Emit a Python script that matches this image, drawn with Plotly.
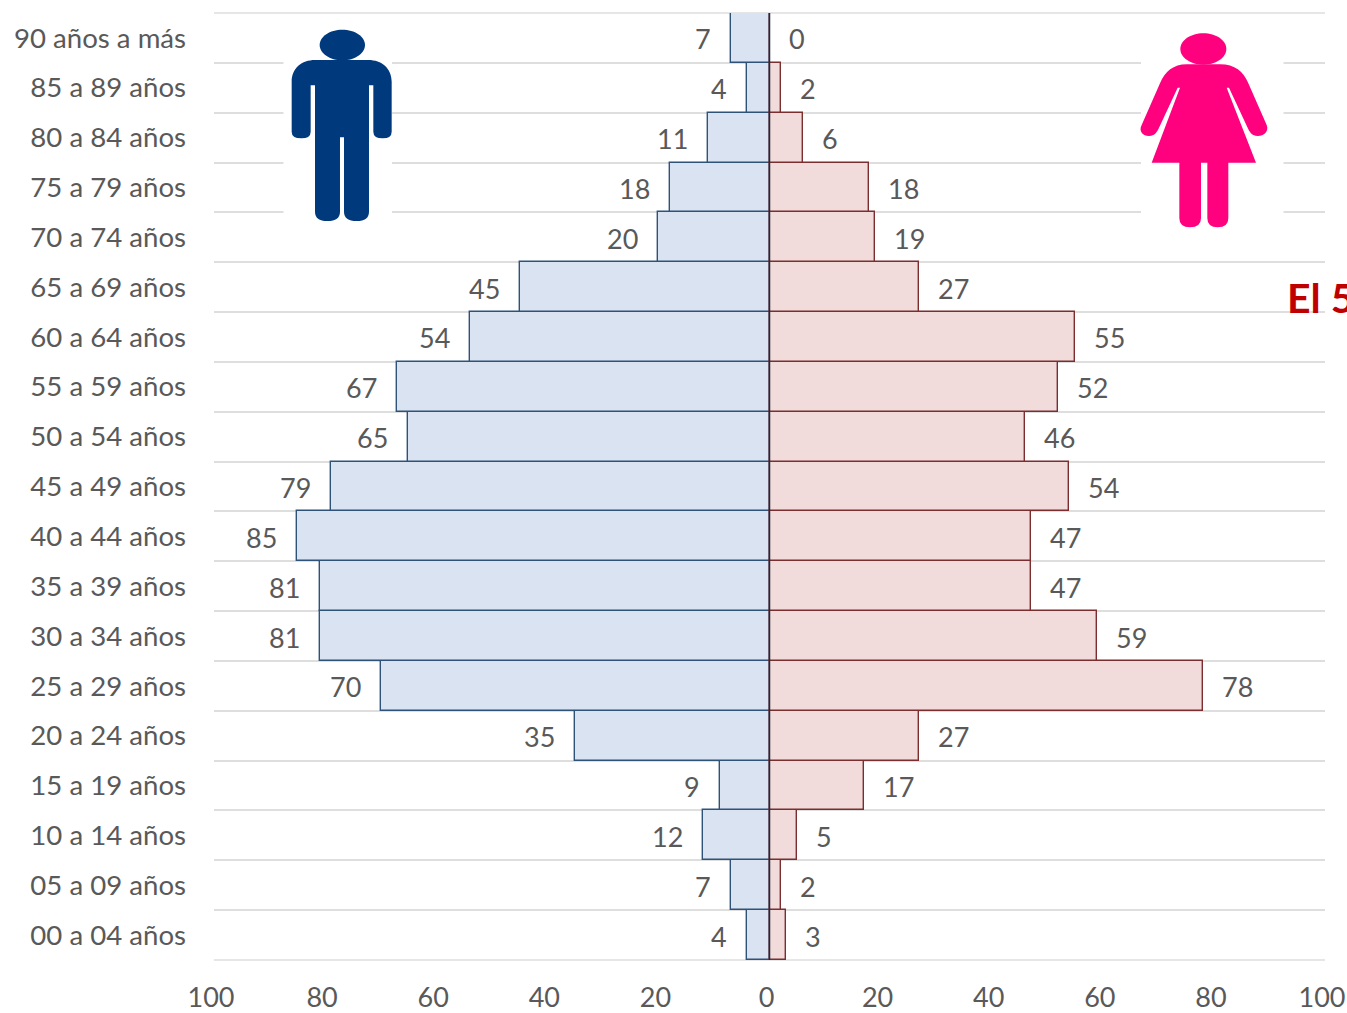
import plotly.graph_objects as go

categories = ["00 a 04 años","05 a 09 años","10 a 14 años","15 a 19 años","20 a 24 años","25 a 29 años",
              "30 a 34 años","35 a 39 años","40 a 44 años","45 a 49 años","50 a 54 años","55 a 59 años",
              "60 a 64 años","65 a 69 años","70 a 74 años","75 a 79 años","80 a 84 años","85 a 89 años","90 años a más"]
men = [4,7,12,9,35,70,81,81,85,79,65,67,54,45,20,18,11,4,7]
women = [3,2,5,17,27,78,59,47,47,54,46,52,55,27,19,18,6,2,0]
x_ticks = [-100,-80,-60,-40,-20,0,20,40,60,80,100]
x_labels = ["100","80","60","40","20","0","20","40","60","80","100"]

W, H = 1347, 1013
L, R, T, B = 214, 1325, 13, 960
TXT = "#595959"
FONT = "Lato, 'Open Sans', sans-serif"
GRID = "#DEDEDE"

def px(x, y):
    return f"{(x-L)/(R-L):.5f},{(B-y)/(B-T):.5f}"

def path(cmds, ox, oy, s=1/3):
    out = ""
    for c, pts in cmds:
        out += c + " ".join(px(ox+p[0]*s, oy+p[1]*s) for p in pts) + " "
    return out + "Z"

def ell(cx, cy, rx, ry):
    k = 0.5523
    return [("M",[(cx-rx,cy)]),
            ("C",[(cx-rx,cy-k*ry),(cx-k*rx,cy-ry),(cx,cy-ry)]),
            ("C",[(cx+k*rx,cy-ry),(cx+rx,cy-k*ry),(cx+rx,cy)]),
            ("C",[(cx+rx,cy+k*ry),(cx+k*rx,cy+ry),(cx,cy+ry)]),
            ("C",[(cx-k*rx,cy+ry),(cx-rx,cy+k*ry),(cx-rx,cy)])]

man_body = [("M",[(345,180)]),("L",[(505,180)]),("C",[(545,180),(575,205),(575,245)]),
    ("L",[(575,395)]),("Q",[(575,415),(548,415)]),("Q",[(520,415),(520,395)]),("L",[(520,256)]),("L",[(507,256)]),
    ("L",[(507,635)]),("Q",[(507,663),(470,663)]),("Q",[(432,663),(432,635)]),("L",[(432,412)]),("L",[(420,412)]),
    ("L",[(420,635)]),("Q",[(420,663),(382,663)]),("Q",[(345,663),(345,635)]),("L",[(345,256)]),("L",[(332,256)]),
    ("L",[(332,395)]),("Q",[(332,415),(304,415)]),("Q",[(275,415),(275,395)]),("L",[(275,245)]),("C",[(275,205),(305,180),(345,180)])]

woman_body = [("M",[(260,193)]),("L",[(360,193)]),("C",[(405,193),(430,215),(445,250)]),
    ("L",[(500,375)]),("C",[(510,400),(480,415),(460,405)]),("Q",[(452,402),(445,388)]),("L",[(387,263)]),("L",[(380,263)]),
    ("L",[(468,488)]),("L",[(385,488)]),("L",[(385,655)]),("Q",[(385,682),(353,682)]),("Q",[(322,682),(322,655)]),("L",[(322,488)]),
    ("L",[(303,488)]),("L",[(303,655)]),("Q",[(303,682),(270,682)]),("Q",[(238,682),(238,655)]),("L",[(238,488)]),
    ("L",[(155,488)]),("L",[(240,263)]),("L",[(233,263)]),("L",[(175,388)]),("Q",[(168,402),(160,405)]),
    ("C",[(140,415),(112,400),(125,375)]),("L",[(180,250)]),("C",[(195,215),(220,193),(260,193)])]

def paper_rect(x0, y0, x1, y1):
    return dict(type="rect", xref="paper", yref="paper", x0=(x0-L)/(R-L), x1=(x1-L)/(R-L),
                y0=(B-y1)/(B-T), y1=(B-y0)/(B-T), fillcolor="white", line_width=0, layer="above")

def icon(d, color):
    return dict(type="path", xref="paper", yref="paper", path=d, fillcolor=color, line_width=0, layer="above")

MAN, WOMAN = "#003A7D", "#FF007F"
shapes = [dict(type="line", xref="paper", yref="paper", x0=0, x1=1, y0=0, y1=0, line=dict(color=GRID, width=1.5), layer="below"),
          dict(type="line", xref="paper", yref="paper", x0=0, x1=1, y0=1, y1=1, line=dict(color=GRID, width=1.5), layer="below"),
          dict(type="line", xref="x", yref="paper", x0=0, x1=0, y0=0, y1=1, line=dict(color="#1C2B3F", width=1.5), layer="above"),
          paper_rect(283.5, 40, 392, 225), paper_rect(1141, 40, 1283.5, 232),
          icon(path(man_body, 200, 0), MAN), icon(path(ell(427,135,68,46), 200, 0), MAN),
          icon(path(woman_body, 1100, 0), WOMAN), icon(path(ell(310,147,69,47), 1100, 0), WOMAN)]

fig = go.Figure()
fig.add_bar(y=categories, x=[-v for v in men], orientation="h", name="Hombres",
            marker=dict(color="#DAE3F1", line=dict(color="#2F5279", width=1.4)))
fig.add_bar(y=categories, x=women, orientation="h", name="Mujeres",
            marker=dict(color="#F1DBDB", line=dict(color="#7A2E30", width=1.4)))

ann = []
for c, v in zip(categories, men):
    ann.append(dict(x=-v, y=c, text=str(v), xanchor="right", xshift=-18, yshift=-1, showarrow=False,
                    font=dict(size=27, color=TXT, family=FONT)))
for c, v in zip(categories, women):
    ann.append(dict(x=v, y=c, text=str(v), xanchor="left", xshift=17, yshift=-1, showarrow=False,
                    font=dict(size=27, color=TXT, family=FONT)))
ann.append(dict(xref="paper", yref="paper", x=(1285-L)/(R-L), y=(B-297)/(B-T), text="<b>El 5</b>",
                xanchor="left", yanchor="middle", showarrow=False, font=dict(size=41, color="#C00000", family=FONT)))

fig.update_layout(
    width=W, height=H, autosize=False, barmode="relative", bargap=0, showlegend=False,
    margin=dict(l=L, r=W-R, t=T, b=H-B), paper_bgcolor="white", plot_bgcolor="white",
    font=dict(family=FONT, size=27, color=TXT), annotations=ann, shapes=shapes,
    xaxis=dict(range=[-100,100], tickvals=x_ticks, ticktext=x_labels, showgrid=False, automargin=False,
               zeroline=False, showline=False, ticks="", ticklabelstandoff=19, ticklabelshift=-3,
               ticklabeloverflow="allow", tickfont=dict(size=27, color=TXT)),
    yaxis=dict(type="category", categoryorder="array", categoryarray=categories, tickson="boundaries",
               range=[-0.5,18.5], automargin=False, showgrid=True, gridcolor=GRID, gridwidth=1.5,
               zeroline=False, showline=False, ticks="", ticklabelstandoff=27,
               tickfont=dict(size=27.6, color=TXT)),
)
fig.write_html("out.html", config=dict(displayModeBar=False),
               post_script="document.body.style.margin='0';document.documentElement.style.overflow='hidden';")
